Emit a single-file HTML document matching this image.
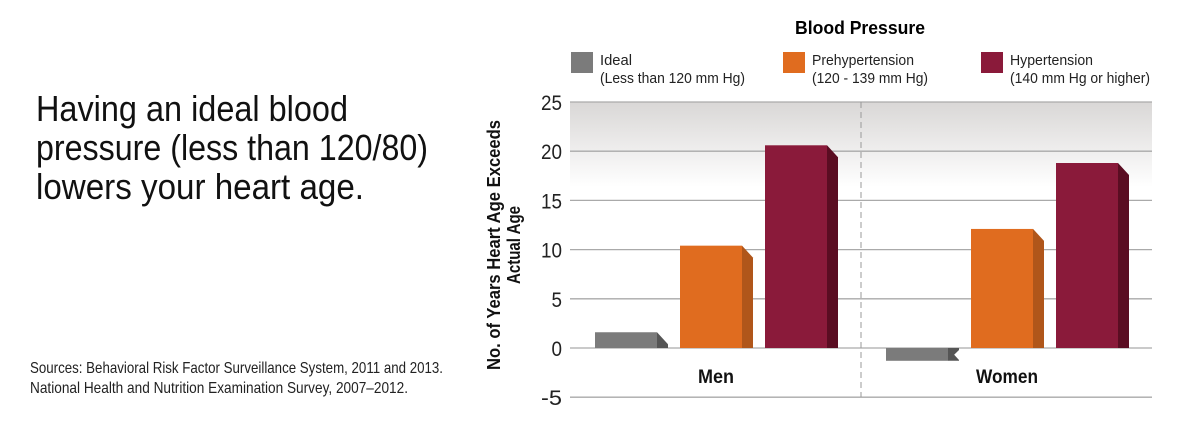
<!DOCTYPE html>
<html><head><meta charset="utf-8"><style>
html,body{margin:0;padding:0;background:#fff;}
svg{display:block;font-family:"Liberation Sans Narrow","Liberation Sans",sans-serif;}
</style></head><body>
<svg width="1185" height="430" viewBox="0 0 1185 430">
<defs>
<linearGradient id="bg" x1="0" y1="0" x2="0" y2="1">
<stop offset="0" stop-color="#d9d7d6"/><stop offset="1" stop-color="#ffffff"/>
</linearGradient>
</defs>
<g font-size="36" fill="#111">
<text x="36" y="121" textLength="312" lengthAdjust="spacingAndGlyphs">Having an ideal blood</text>
<text x="36" y="160" textLength="392" lengthAdjust="spacingAndGlyphs">pressure (less than 120/80)</text>
<text x="36" y="199" textLength="328" lengthAdjust="spacingAndGlyphs">lowers your heart age.</text>
</g>
<g font-size="16" fill="#222">
<text x="30" y="373" textLength="413" lengthAdjust="spacingAndGlyphs">Sources: Behavioral Risk Factor Surveillance System, 2011 and 2013.</text>
<text x="30" y="393" textLength="378" lengthAdjust="spacingAndGlyphs">National Health and Nutrition Examination Survey, 2007–2012.</text>
</g>
<text x="860" y="34" text-anchor="middle" font-size="18" font-weight="bold" textLength="130" lengthAdjust="spacingAndGlyphs">Blood Pressure</text>
<g id="legend"></g>
<rect x="570" y="102" width="582" height="85" fill="url(#bg)"/>
<g id="grid"></g>
<line x1="861" y1="102" x2="861" y2="397" stroke="#999" stroke-dasharray="6,4" stroke-width="1"/>
<g id="bars"></g>
<g font-size="18" font-weight="bold" fill="#111">
<text transform="translate(500,245) rotate(-90)" text-anchor="middle" textLength="250" lengthAdjust="spacingAndGlyphs">No. of Years Heart Age Exceeds</text>
<text transform="translate(520,245) rotate(-90)" text-anchor="middle" textLength="78" lengthAdjust="spacingAndGlyphs">Actual Age</text>
</g>
<g id="cats"></g>
</svg>
<script>
const categories = ["Men", "Women"];
const seriesNames = ["Ideal", "Prehypertension", "Hypertension"];
const seriesSub = ["(Less than 120 mm Hg)", "(120 - 139 mm Hg)", "(140 mm Hg or higher)"];
const idealValues = [1.6, -1.3];
const preValues = [10.4, 12.1];
const hyperValues = [20.6, 18.8];
const yTicks = [25, 20, 15, 10, 5, 0, -5];

const NS = "http://www.w3.org/2000/svg";
const series = [idealValues, preValues, hyperValues];
const fronts = ["#7b7b7b", "#e06c1f", "#8a1a3a"];
const sides = ["#555555", "#b0561a", "#5a0d22"];
const y = v => 348 - v * 9.84;
const groupX = i => 595 + i * 291;
function mk(tag, attrs, parent) {
  const e = document.createElementNS(NS, tag);
  for (const k in attrs) e.setAttribute(k, attrs[k]);
  parent.appendChild(e);
  return e;
}
const grid = document.getElementById("grid");
yTicks.forEach(t => {
  const l = mk("line", {x1: 570, x2: 1152, y1: y(t), y2: y(t), stroke: "#aaa", "stroke-width": 1.3}, grid);
  
  
  const s = String(t);
  const tx = mk("text", {x: 562, y: y(t) + 8, "text-anchor": "end", "font-size": 21, fill: "#222", textLength: s.length * 10.5, lengthAdjust: "spacingAndGlyphs"}, grid);
  tx.textContent = s;
  
  
});
const bars = document.getElementById("bars");
const catW = [36, 62];
categories.forEach((c, gi) => {
  series.forEach((s, si) => {
    const v = s[gi];
    const x0 = groupX(gi) + si * 85, w = 62, d = 11;
    const top = y(Math.max(v, 0)), bot = y(Math.min(v, 0));
    const g = mk("g", {}, bars);
    
    
    const sd = Math.min(12, bot - top);
    mk("polygon", {points: `${x0+w},${top} ${x0+w+d},${top+sd} ${x0+w+d},${bot} ${x0+w},${bot}`, fill: sides[si]}, g);
    if (v < 0) {
      mk("polygon", {points: `${x0+w},${top} ${x0+w+d},${top} ${x0+w+d},${top+2} ${x0+w},${bot}`, fill: sides[si]}, g);
    }
    mk("rect", {x: x0, y: top, width: w, height: bot - top, fill: fronts[si]}, g);
  });
  const ct = mk("text", {x: groupX(gi) + 121, y: 383, "text-anchor": "middle", "font-size": 19, "font-weight": "bold", fill: "#111", textLength: catW[gi], lengthAdjust: "spacingAndGlyphs"}, document.getElementById("cats"));
  ct.textContent = c;
  
  
});
const legend = document.getElementById("legend");
const lx = [571, 783, 981];
const nameW = [32, 102, 83];
const subW = [145, 116, 140];
seriesNames.forEach((n, i) => {
  const g = mk("g", {}, legend);
  
  
  mk("rect", {x: lx[i], y: 52, width: 22, height: 21, fill: fronts[i]}, g);
  const t1 = mk("text", {x: lx[i] + 29, y: 65, "font-size": 15, fill: "#222", textLength: nameW[i], lengthAdjust: "spacingAndGlyphs"}, g);
  t1.textContent = n;
  const t2 = mk("text", {x: lx[i] + 29, y: 83, "font-size": 15, fill: "#222", textLength: subW[i], lengthAdjust: "spacingAndGlyphs"}, g);
  t2.textContent = seriesSub[i];
});
</script>
</body></html>
